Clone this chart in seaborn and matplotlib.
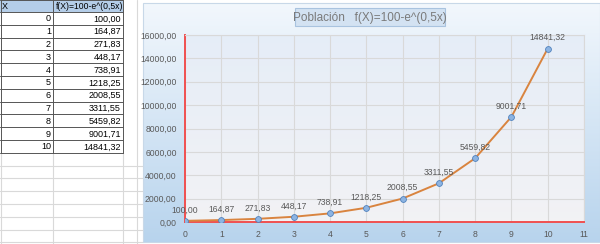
import numpy as np
import matplotlib
matplotlib.use("Agg")
import matplotlib.pyplot as plt
from matplotlib.patches import Rectangle
import seaborn as sns
import pandas as pd

# ---- data ----
x_vals = [0, 1, 2, 3, 4, 5, 6, 7, 8, 9, 10]
f_vals = [100.00, 164.87, 271.83, 448.17, 738.91, 1218.25, 2008.55, 3311.55, 5459.82, 9001.71, 14841.32]
y_ticks = [0, 2000, 4000, 6000, 8000, 10000, 12000, 14000, 16000]
x_ticks = [0, 1, 2, 3, 4, 5, 6, 7, 8, 9, 10, 11]
title_text = "Población   f(X)=100-e^(0,5x)"
col_headers = ["X", "f(X)=100-e^(0,5x)"]

def fmt(v):
    return f"{v:.2f}".replace(".", ",")

sns.set_theme(style="white")
plt.rcParams['font.family'] = ['Liberation Sans', 'DejaVu Sans']

W, H = 600, 244
fig = plt.figure(figsize=(W / 100, H / 100), dpi=100)
fig.patch.set_facecolor("white")

bg = fig.add_axes([0, 0, 1, 1])
bg.set_xlim(0, W)
bg.set_ylim(H, 0)
bg.axis("off")

row_h = 12.8
hdr_h = 12.0
tab_right = 123
col_split = 53
grid_c = "#d9d9d9"
for i in range(12, 20):
    yy = hdr_h + row_h * i
    bg.plot([0, 143], [yy, yy], color=grid_c, lw=0.8)
for xx in [1, col_split, tab_right]:
    bg.plot([xx, xx], [hdr_h + row_h * 11, H], color=grid_c, lw=0.8)
bg.plot([137, 137], [0, H], color=grid_c, lw=0.8)

bg.add_patch(Rectangle((0, 0), tab_right, hdr_h, facecolor="#b4cde8", edgecolor="none"))
tfs = 6.5
bg.text(2, hdr_h / 2 + 0.5, col_headers[0], fontsize=tfs, va="center", ha="left", color="#000")
bg.text(col_split + 2.5, hdr_h / 2 + 0.5, col_headers[1], fontsize=6.2, va="center", ha="left", color="#000")
for i, (xv, fv) in enumerate(zip(x_vals, f_vals)):
    yc = hdr_h + row_h * i + row_h / 2 + 0.5
    bg.text(col_split - 2, yc, str(xv), fontsize=tfs, va="center", ha="right", color="#000")
    bg.text(tab_right - 2, yc, fmt(fv), fontsize=tfs, va="center", ha="right", color="#000")
bottom_t = hdr_h + row_h * 11
for i in range(12):
    yy = hdr_h + row_h * i
    bg.plot([0, tab_right], [yy, yy], color="#555555", lw=0.7)
bg.plot([0, tab_right], [0, 0], color="#555555", lw=0.7)
for xx in [0.5, col_split, tab_right]:
    bg.plot([xx, xx], [0, bottom_t], color="#555555", lw=0.7)

# chart area gradient
grad = np.linspace(0, 1, 256).reshape(-1, 1)
top_c = np.array([0.95, 0.97, 0.99])
bot_c = np.array([0.72, 0.83, 0.93])
img = top_c + (bot_c - top_c) * grad
img = np.repeat(img[:, None, :], 2, axis=1).reshape(256, 2, 3)
bg.imshow(img, extent=[143, 600, 242, 3], aspect="auto", zorder=1)
bg.add_patch(Rectangle((143, 3), 457, 239, facecolor="none", edgecolor="#c8d8e8", lw=0.8, zorder=2))

bg.add_patch(Rectangle((295, 8), 150, 18, facecolor="#d3e2f2", edgecolor="#a9c3df", lw=0.8, zorder=3))
bg.text(370, 17.5, title_text, fontsize=8.5, ha="center", va="center", color="#7a7a7a", zorder=4)

left, right, top, bottom = 185, 584, 35, 222
ax = fig.add_axes([left / W, (H - bottom) / H, (right - left) / W, (bottom - top) / H])
ax.set_zorder(5)
pg_top = np.array([0.90, 0.93, 0.97])
pg_bot = np.array([0.95, 0.95, 0.96])
pimg = pg_top + (pg_bot - pg_top) * grad
pimg = np.repeat(pimg[:, None, :], 2, axis=1).reshape(256, 2, 3)
ax.imshow(pimg, extent=[0, 11, 0, 16000], aspect="auto", zorder=0)

df = pd.DataFrame({"x": x_vals, "f": f_vals})
sns.lineplot(data=df, x="x", y="f", ax=ax, color="#d9843f", lw=1.4, zorder=3,
             marker="o", markersize=4.2, markerfacecolor="#8db4e2",
             markeredgecolor="#4f81bd", markeredgewidth=0.6)
for xv, fv in zip(x_vals, f_vals):
    ax.annotate(fmt(fv), (xv, fv), xytext=(0, 4.5), textcoords="offset points",
                ha="center", va="bottom", fontsize=6.2, color="#595959", zorder=4)

ax.set_xlim(0, 11)
ax.set_ylim(0, 16000)
ax.set_xticks(x_ticks)
ax.set_xticklabels([str(t) for t in x_ticks])
ax.set_yticks(y_ticks)
ax.set_yticklabels([fmt(t) for t in y_ticks])
ax.tick_params(axis="both", labelsize=6.2, colors="#595959", length=0, pad=6)
ax.grid(True, color="#d9d9d9", lw=0.8, zorder=1)
ax.set_axisbelow(True)
ax.set_xlabel("")
ax.set_ylabel("")
for s in ["top", "right"]:
    ax.spines[s].set_color("#d9d9d9")
    ax.spines[s].set_linewidth(0.8)
ax.spines["left"].set_color("#f05050")
ax.spines["bottom"].set_color("#f05050")
ax.spines["left"].set_linewidth(1.4)
ax.spines["bottom"].set_linewidth(1.4)

fig.savefig("out.png", dpi=100)
